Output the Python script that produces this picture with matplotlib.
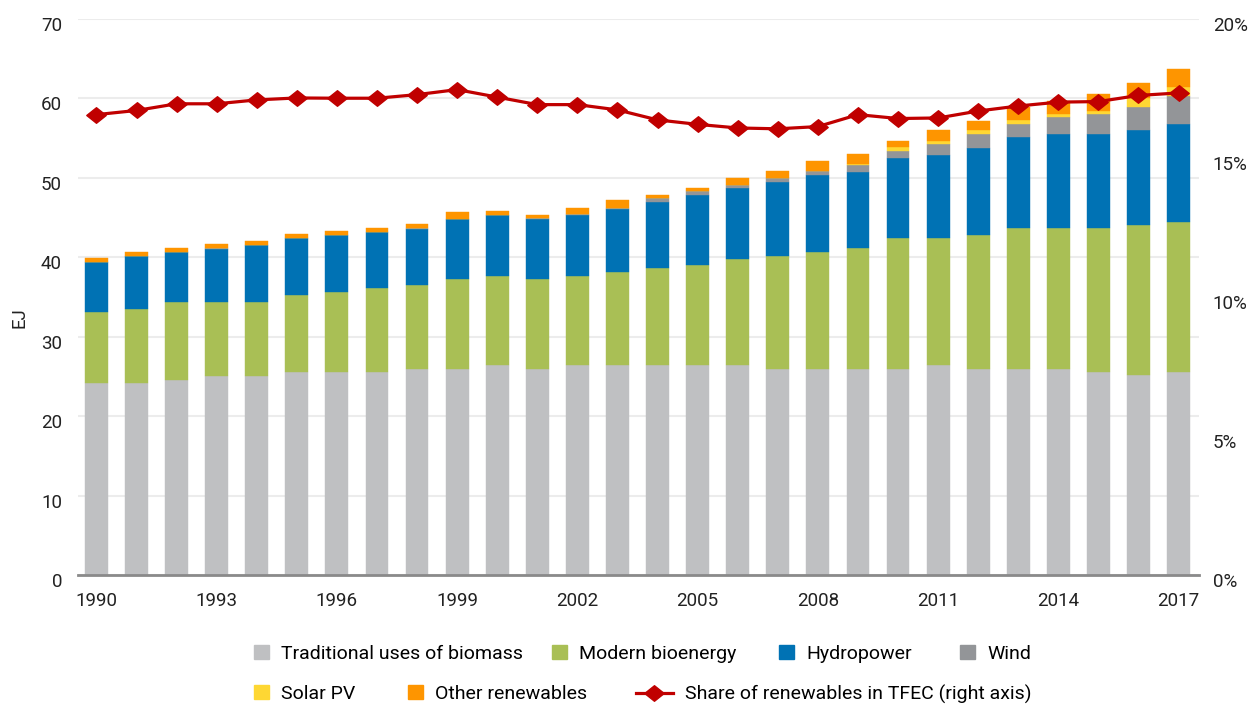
import numpy as np
import matplotlib
matplotlib.use("Agg")
import matplotlib.pyplot as plt
from matplotlib.patches import Patch
from matplotlib.lines import Line2D
from matplotlib.path import Path
from matplotlib.ticker import FuncFormatter, MultipleLocator
import matplotlib.transforms as mtransforms

plt.rcParams['font.family'] = ['Roboto', 'DejaVu Sans']

years = list(range(1990, 2018))

# EJ
traditional = [24.2, 24.2, 24.6, 25.1, 25.1, 25.5, 25.5, 25.5, 25.9, 25.9, 26.4, 25.9, 26.4, 26.4,
               26.4, 26.4, 26.4, 25.9, 25.9, 25.9, 25.9, 26.4, 25.9, 25.9, 25.9, 25.5, 25.2, 25.5]
modern_bio = [8.9, 9.3, 9.8, 9.3, 9.3, 9.7, 10.1, 10.6, 10.6, 11.4, 11.3, 11.4, 11.3, 11.8,
              12.2, 12.6, 13.4, 14.3, 14.8, 15.3, 16.5, 16.0, 16.9, 17.8, 17.8, 18.2, 18.9, 19.0]
hydro = [6.3, 6.7, 6.3, 6.7, 7.1, 7.2, 7.2, 7.1, 7.1, 7.5, 7.6, 7.5, 7.6, 7.9,
         8.4, 8.9, 8.9, 9.3, 9.7, 9.6, 10.1, 10.5, 11.0, 11.4, 11.8, 11.8, 11.9, 12.3]
wind = [0.01, 0.01, 0.01, 0.01, 0.02, 0.02, 0.03, 0.04, 0.05, 0.06, 0.08, 0.1, 0.12, 0.15,
        0.43, 0.42, 0.45, 0.47, 0.46, 0.87, 0.9, 1.3, 1.7, 1.7, 2.1, 2.55, 2.95, 3.5]
solar = [0, 0, 0, 0, 0, 0, 0, 0, 0, 0, 0, 0, 0, 0,
         0, 0, 0.01, 0.02, 0.03, 0.05, 0.5, 0.5, 0.5, 0.45, 0.4, 0.4, 1.05, 1.2]
other = [0.5, 0.5, 0.5, 0.5, 0.5, 0.45, 0.5, 0.5, 0.5, 0.9, 0.45, 0.45, 0.8, 0.9,
         0.45, 0.45, 0.84, 0.84, 1.29, 1.25, 0.8, 1.3, 1.2, 1.7, 1.7, 2.1, 1.9, 2.2]
# share of renewables in TFEC, %
share = [16.56, 16.71, 16.95, 16.95, 17.09, 17.16, 17.15, 17.15, 17.28, 17.46, 17.19, 16.92, 16.92, 16.73,
         16.37, 16.21, 16.08, 16.05, 16.13, 16.56, 16.42, 16.44, 16.69, 16.87, 17.01, 17.03, 17.25, 17.34]

series = [
    ("Traditional uses of biomass", traditional, "#bfc0c2"),
    ("Modern bioenergy", modern_bio, "#a9bf55"),
    ("Hydropower", hydro, "#0072b4"),
    ("Wind", wind, "#939598"),
    ("Solar PV", solar, "#fed733"),
    ("Other renewables", other, "#fe9500"),
]
line_label = "Share of renewables in TFEC (right axis)"
red = "#c00000"

W, H = 1257, 704
fig = plt.figure(figsize=(W / 100, H / 100), dpi=100)
ax = fig.add_axes([78 / W, (H - 575) / H, (1199 - 78) / W, (575 - 19) / H])

x = np.arange(len(years))
bottom = np.zeros(len(years))
for name, vals, col in series:
    vals = np.array(vals)
    ax.bar(x, vals, bottom=bottom, width=0.57, color=col, edgecolor=col, linewidth=0.3, zorder=2)
    bottom += vals

ax.set_xlim(-0.46, len(years) - 1 + 0.51)
ax.set_ylim(0, 70)
ax.yaxis.set_major_locator(MultipleLocator(10))
ax.set_xticks(x[::3])
ax.set_xticklabels([str(y) for y in years[::3]])
ax.grid(axis="y", color="#ececec", linewidth=1.5, zorder=0)
ax.set_axisbelow(True)
for s in ["top", "right", "left"]:
    ax.spines[s].set_visible(False)
ax.spines["bottom"].set_color("#8a8a8a")
ax.spines["bottom"].set_linewidth(2.0)
ax.spines["bottom"].set_zorder(5)
ax.tick_params(axis="both", length=0, labelsize=13.5, colors="#222222")
ax.tick_params(axis="x", pad=12.5)
ax.tick_params(axis="y", pad=11.5)

# diamond slightly flatter than tall
diamond = Path([(-1, 0), (0, 0.8), (1, 0), (0, -0.8), (-1, 0)],
               [Path.MOVETO, Path.LINETO, Path.LINETO, Path.LINETO, Path.CLOSEPOLY])

ax2 = ax.twinx()
ax2.plot(x, share, color=red, linewidth=2.3, marker=diamond, markersize=14, zorder=6)
ax2.set_ylim(0, 20)
ax2.yaxis.set_major_locator(MultipleLocator(5))
ax2.yaxis.set_major_formatter(FuncFormatter(lambda v, p: f"{v:.0f}%"))
for s in ["top", "right", "left", "bottom"]:
    ax2.spines[s].set_visible(False)
ax2.tick_params(axis="y", length=0, labelsize=13.5, colors="#222222", pad=10)

# tick labels on the reference sit a few pixels under the gridlines
shift = mtransforms.ScaledTranslation(0, -5 / 100, fig.dpi_scale_trans)
for lab in ax.get_yticklabels() + ax2.get_yticklabels():
    lab.set_transform(lab.get_transform() + shift)

fig.text(20 / W, 1 - 318 / H, "EJ", rotation=90, ha="center", va="center", fontsize=13.5, color="#222222")

# legend, one entry at a time so each sits where the reference puts it
fs = 14
entries = [
    (Patch(color=series[0][2]), series[0][0], 254, 654),
    (Patch(color=series[1][2]), series[1][0], 552, 654),
    (Patch(color=series[2][2]), series[2][0], 779, 654),
    (Patch(color=series[3][2]), series[3][0], 960, 654),
    (Patch(color=series[4][2]), series[4][0], 254, 694),
    (Patch(color=series[5][2]), series[5][0], 408, 694),
]
for h, lab, px, py in entries:
    fig.legend([h], [lab], loc="center left", bbox_to_anchor=(px / W, 1 - py / H),
               frameon=False, borderpad=0, borderaxespad=0, fontsize=fs,
               handlelength=0.77, handleheight=0.77, handletextpad=0.62)
lh = Line2D([], [], color=red, linewidth=2.3, marker=diamond, markersize=14)
fig.legend([lh], [line_label], loc="center left", bbox_to_anchor=(636 / W, 1 - 694 / H),
           frameon=False, borderpad=0, borderaxespad=0, fontsize=fs,
           handlelength=1.9, handletextpad=0.62)

fig.savefig("out.png", dpi=100)
